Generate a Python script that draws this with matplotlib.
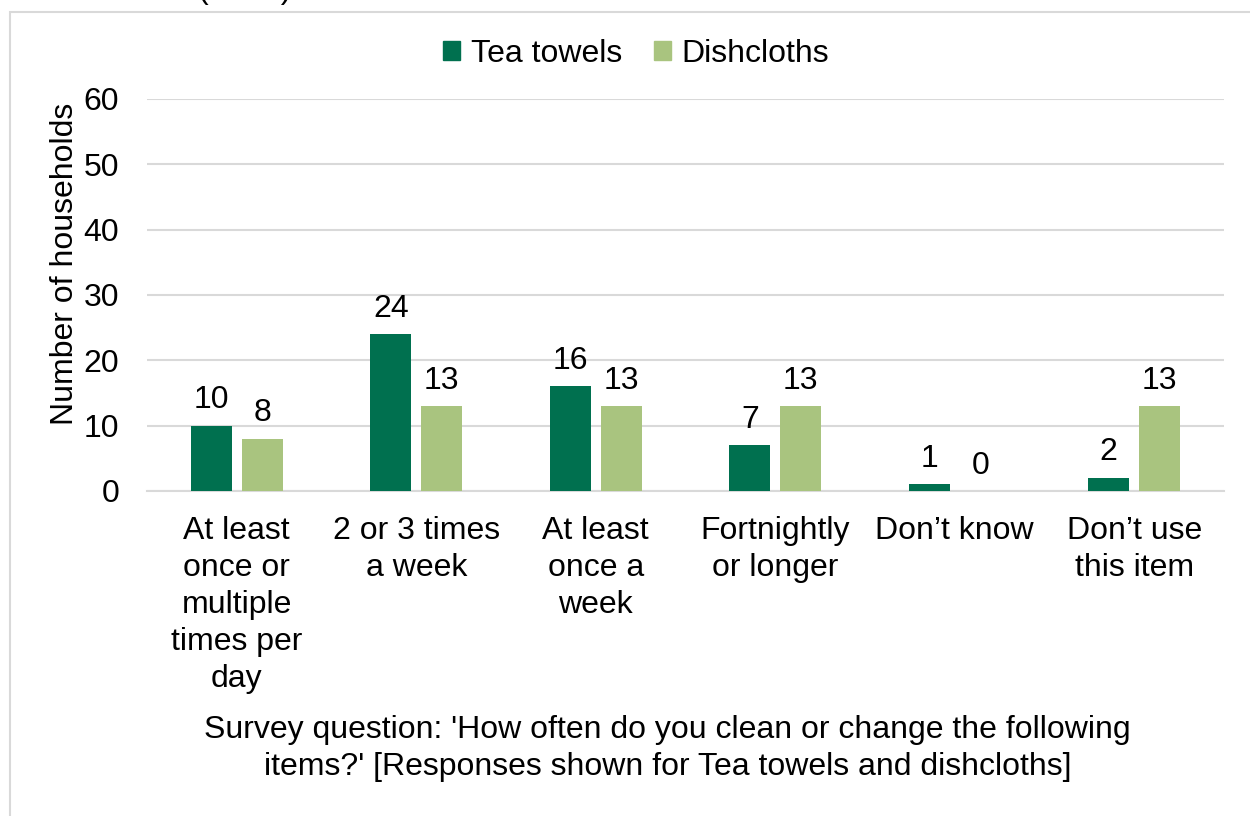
import matplotlib.pyplot as plt
import numpy as np
from matplotlib.patches import Patch, Rectangle

plt.rcParams['font.family'] = ['Liberation Sans', 'DejaVu Sans']

categories = ["At least\nonce or\nmultiple\ntimes per\nday", "2 or 3 times\na week",
              "At least\nonce a\nweek", "Fortnightly\nor longer", "Don\u2019t know",
              "Don\u2019t use\nthis item"]
tea_towels = [10, 24, 16, 7, 1, 2]
dishcloths = [8, 13, 13, 13, 0, 13]
series_names = ["Tea towels", "Dishcloths"]

dark = "#00704f"
light = "#a9c47f"
fs = 23

fig = plt.figure(figsize=(12.5, 8.16), dpi=100)
ax = fig.add_axes([0.1176, 0.3983, 0.8616, 0.4804])

x = np.arange(len(categories))
w = 0.228
off = 0.142
bars1 = ax.bar(x - off, tea_towels, w, color=dark, zorder=3)
bars2 = ax.bar(x + off, dishcloths, w, color=light, zorder=3)

for bars in (bars1, bars2):
    for b in bars:
        h = b.get_height()
        ax.text(b.get_x() + b.get_width() / 2, h + 1.6, f"{h:.0f}",
                ha='center', va='bottom', fontsize=fs)

ax.set_xlim(-0.5, len(categories) - 0.5)
ax.set_ylim(0, 60)
ax.set_yticks(range(0, 61, 10))
ax.yaxis.grid(True, color='#d9d9d9', linewidth=1.5, zorder=0)
ax.set_axisbelow(True)
for s in ('top', 'right', 'left'):
    ax.spines[s].set_visible(False)
ax.spines['bottom'].set_color('#d9d9d9')
ax.spines['bottom'].set_linewidth(1.5)
ax.tick_params(axis='y', length=0, pad=20, labelsize=fs)
ax.tick_params(axis='x', length=0, pad=18, labelsize=fs)
ax.set_xticks(x)
ax.set_xticklabels(categories, linespacing=1.3)

fig.text(0.052, 0.677, "Number of households", rotation=90, ha='center', va='center', fontsize=fs)

handles = [Patch(color=dark), Patch(color=light)]
fig.legend(handles, series_names, loc='center', bbox_to_anchor=(0.509, 0.934), ncol=2,
           frameon=False, fontsize=fs, handlelength=0.53, handleheight=0.53,
           handletextpad=0.33, columnspacing=1.0)

fig.text(0.534, 0.083, "Survey question: 'How often do you clean or change the following\n"
         "items?' [Responses shown for Tea towels and dishcloths]",
         ha='center', va='center', fontsize=fs, linespacing=1.32)

# clipped title remnant at the very top
fig.text(0.158, 1.0 + 2 / 816, "(n=60)", ha='left', va='baseline', fontsize=fs)

fig.patches.append(Rectangle((10 / 1250, -0.1), 1.2, 1.0 - 12 / 816 + 0.1,
                             transform=fig.transFigure, fill=False,
                             edgecolor='#d9d9d9', linewidth=1.5))

fig.savefig("out.png", dpi=100)
